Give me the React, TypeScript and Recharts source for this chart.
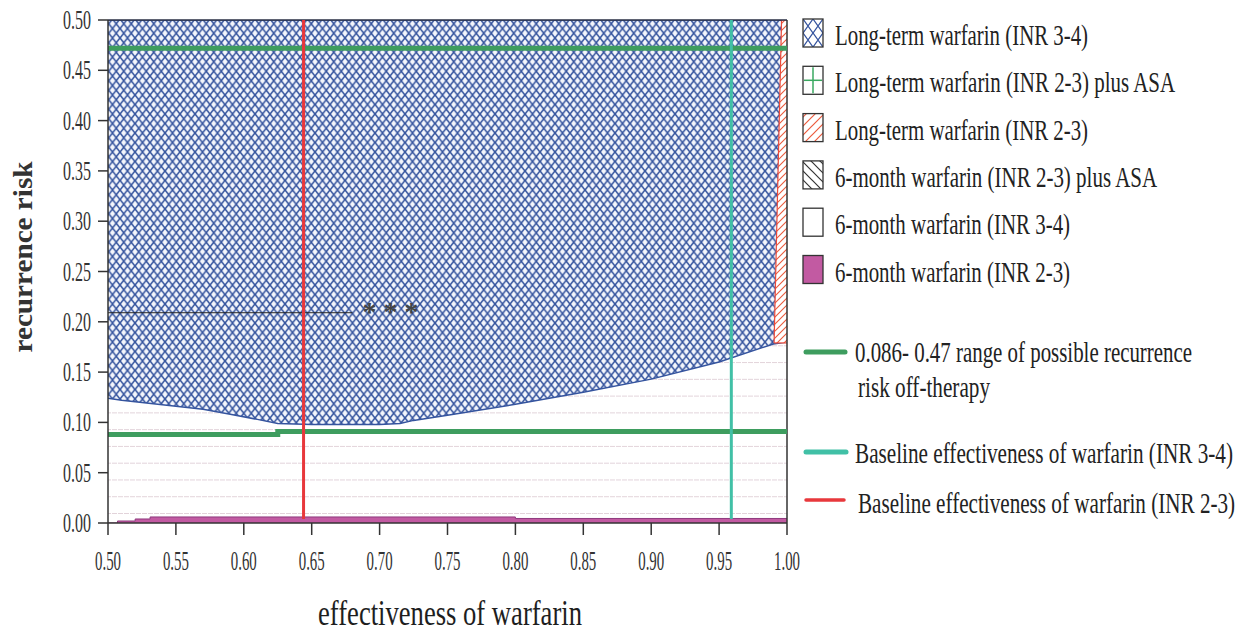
import React, { useLayoutEffect, useRef, useState } from 'react'
import {
  ComposedChart,
  Area,
  Line,
  XAxis,
  YAxis,
  CartesianGrid,
  ReferenceLine,
  ReferenceDot,
} from 'recharts'

const SERIF = '"Liberation Serif", "Times New Roman", serif'

const X_TICKS = [0.5, 0.55, 0.6, 0.65, 0.7, 0.75, 0.8, 0.85, 0.9, 0.95, 1.0]
const Y_TICKS = [0, 0.05, 0.1, 0.15, 0.2, 0.25, 0.3, 0.35, 0.4, 0.45, 0.5]
const RISK_MAX = 0.5

// long-term warfarin (INR 3-4): lower edge of the cross-hatched region
const LONG_INR34_X = [0.5, 0.51, 0.53, 0.55, 0.57, 0.59, 0.61, 0.625, 0.65, 0.7, 0.715, 0.725, 0.75, 0.8, 0.85, 0.9, 0.95, 0.99, 1.0]
const LONG_INR34_LOW = [0.124, 0.122, 0.119, 0.116, 0.113, 0.108, 0.103, 0.099, 0.098, 0.098, 0.099, 0.102, 0.107, 0.118, 0.13, 0.143, 0.16, 0.178, 0.18]

// long-term warfarin (INR 2-3): thin sliver at the right edge
const LONG_INR23_X = [0.9905, 0.996, 1.0]
const LONG_INR23_LOW = [0.179, 0.179, 0.179]
const LONG_INR23_HIGH = [0.179, 0.5, 0.5]

// 6-month warfarin (INR 2-3): band along the bottom
const SIX_INR23_X = [0.5, 0.507, 0.52, 0.531, 0.8, 1.0]
const SIX_INR23_Y = [0, 0.002, 0.004, 0.006, 0.0045, 0.0045]

// off-therapy recurrence risk range
const OFF_HIGH_X = [0.5, 1.0]
const OFF_HIGH_Y = [0.472, 0.472]
const OFF_LOW_X = [0.5, 0.625, 0.625, 1.0]
const OFF_LOW_Y = [0.088, 0.088, 0.091, 0.091]

// baseline effectiveness lines
const BASELINE_INR34 = 0.959
const BASELINE_INR23 = 0.644
const BASELINE_SPAN = [0.004, 0.5]

// *** marker
const MARK_X = [0.5, 0.68]
const MARK_Y = 0.209
const MARK_LABEL_X = 0.708

const LEGEND_BOXES = [
  { label: 'Long-term warfarin (INR 3-4)', len: 253, kind: 'xhatch' },
  { label: 'Long-term warfarin (INR 2-3) plus ASA', len: 340, kind: 'plus' },
  { label: 'Long-term warfarin (INR 2-3)', len: 253, kind: 'rhatch' },
  { label: '6-month warfarin (INR 2-3) plus ASA', len: 322, kind: 'khatch' },
  { label: '6-month warfarin (INR 3-4)', len: 235, kind: 'empty' },
  { label: '6-month warfarin (INR 2-3)', len: 235, kind: 'solid' },
]

const toPoints = (xs: number[], ys: number[]) => xs.map((x, i) => ({ x, y: ys[i] }))

const longInr34Data = LONG_INR34_X.map((x, i) => ({ x, range: [LONG_INR34_LOW[i], RISK_MAX] }))
const longInr23Data = LONG_INR23_X.map((x, i) => ({ x, range: [LONG_INR23_LOW[i], LONG_INR23_HIGH[i]] }))
const sixInr23Data = toPoints(SIX_INR23_X, SIX_INR23_Y)
const offHighData = toPoints(OFF_HIGH_X, OFF_HIGH_Y)
const offLowData = toPoints(OFF_LOW_X, OFF_LOW_Y)
const base34Data = BASELINE_SPAN.map(y => ({ x: BASELINE_INR34, y }))
const base23Data = BASELINE_SPAN.map(y => ({ x: BASELINE_INR23, y }))
const markData = MARK_X.map(x => ({ x, y: MARK_Y }))

const BLUE = '#35549e'
const GREEN = '#3e9d5f'
const TEAL = '#41c0a6'
const RED = '#e8383c'
const MAGENTA = '#c25aa2'

// text squeezed horizontally to a given width (the scan uses a narrow Times)
function FitText({ x, y, len, anchor = 'start', rotate = 0, size, weight = 'normal', fill = '#222', children }: any) {
  const ref = useRef<SVGTextElement>(null)
  const [sx, setSx] = useState(0.7)
  useLayoutEffect(() => {
    if (!ref.current) return
    const natural = ref.current.getComputedTextLength()
    if (natural > 0) setSx(len / natural)
  }, [len, children, size])
  return (
    <text
      ref={ref}
      transform={`translate(${x},${y}) rotate(${rotate}) scale(${sx},1)`}
      textAnchor={anchor}
      fontSize={size}
      fontWeight={weight}
      fontFamily={SERIF}
      fill={fill}
    >
      {children}
    </text>
  )
}

function YTick({ x, y, payload }: any) {
  return (
    <FitText x={x} y={y + 9} len={28} anchor="end" size={27} fill="#333">
      {Number(payload.value).toFixed(2)}
    </FitText>
  )
}

function XTick({ x, y, payload }: any) {
  return (
    <FitText x={x} y={y + 31} len={26} anchor="middle" size={27} fill="#333">
      {Number(payload.value).toFixed(2)}
    </FitText>
  )
}

function Swatch({ kind, y }: { kind: string; y: number }) {
  const x = 803
  const w = 20
  const h = 28
  let fill = '#fff'
  if (kind === 'xhatch') fill = 'url(#lgX)'
  if (kind === 'rhatch') fill = 'url(#lgR)'
  if (kind === 'khatch') fill = 'url(#lgK)'
  if (kind === 'solid') fill = MAGENTA
  return (
    <g>
      <rect x={x} y={y} width={w} height={h} fill={fill} stroke="#333" strokeWidth={1.3} />
      {kind === 'plus' && (
        <g stroke="#3aa860" strokeWidth={1.5}>
          <line x1={x + w / 2} y1={y + 1} x2={x + w / 2} y2={y + h - 1} />
          <line x1={x + 1} y1={y + h / 2} x2={x + w - 1} y2={y + h / 2} />
        </g>
      )}
    </g>
  )
}

export default function App() {
  return (
    <div style={{ position: 'relative', width: 1239, height: 634, background: '#fff' }}>
      <style>{'body { margin: 0; }'}</style>
      <ComposedChart
        width={1239}
        height={634}
        margin={{ top: 20, right: 452, bottom: 0, left: 0 }}
      >
        <defs>
          <pattern id="xhatch" width={7.5} height={9.5} patternUnits="userSpaceOnUse">
            <rect width={7.5} height={9.5} fill="#f4f6fc" />
            <path d="M0,0 L7.5,9.5 M7.5,0 L0,9.5" stroke={BLUE} strokeWidth={1.6} />
          </pattern>
          <pattern id="rhatch" width={7} height={7} patternUnits="userSpaceOnUse">
            <rect width={7} height={7} fill="#fff" />
            <path d="M0,7 L7,0 M-1,1 L1,-1 M6,8 L8,6" stroke="#ec5a3c" strokeWidth={1.1} />
          </pattern>
          <pattern id="hlines" width={6} height={16.77} y={9.9} patternUnits="userSpaceOnUse">
            <rect width={6} height={16.77} fill="#fff" />
            <line x1={0} y1={0.5} x2={6} y2={0.5} stroke="#e2d3da" strokeWidth={1} strokeDasharray="3 1" />
          </pattern>
        </defs>
        <CartesianGrid horizontal={false} vertical={false} fill="url(#hlines)" />
        <XAxis
          dataKey="x"
          type="number"
          domain={[0.5, 1]}
          ticks={X_TICKS}
          allowDataOverflow
          height={111}
          tickSize={12}
          tickMargin={4}
          tick={<XTick />}
          axisLine={{ stroke: '#333', strokeWidth: 1.5 }}
          tickLine={{ stroke: '#333', strokeWidth: 1.5 }}
        />
        <YAxis
          dataKey="y"
          type="number"
          domain={[0, 0.5]}
          ticks={Y_TICKS}
          allowDataOverflow
          width={108}
          tickSize={10}
          tickMargin={7}
          tick={<YTick />}
          axisLine={{ stroke: '#333', strokeWidth: 1.5 }}
          tickLine={{ stroke: '#333', strokeWidth: 1.5 }}
        />
        <Area
          data={longInr34Data}
          dataKey="range"
          type="linear"
          fill="url(#xhatch)"
          fillOpacity={1}
          stroke={BLUE}
          strokeWidth={1.5}
          isAnimationActive={false}
          dot={false}
          activeDot={false}
        />
        <Area
          data={longInr23Data}
          dataKey="range"
          type="linear"
          fill="url(#rhatch)"
          fillOpacity={1}
          stroke="#ec4a3a"
          strokeWidth={1.2}
          isAnimationActive={false}
          dot={false}
          activeDot={false}
        />
        <Area
          data={sixInr23Data}
          dataKey="y"
          type="stepAfter"
          fill={MAGENTA}
          fillOpacity={1}
          stroke="#8e3a7e"
          strokeWidth={1}
          isAnimationActive={false}
          dot={false}
          activeDot={false}
        />
        <ReferenceLine y={RISK_MAX} stroke="#2a2f45" strokeWidth={1.5} />
        <ReferenceLine x={1} stroke="#333" strokeWidth={1.5} />
        <Line data={markData} dataKey="y" stroke="#222" strokeWidth={1} dot={false} activeDot={false} isAnimationActive={false} />
        <Line data={offHighData} dataKey="y" stroke={GREEN} strokeWidth={5} strokeLinecap="round" dot={false} activeDot={false} isAnimationActive={false} />
        <Line data={offLowData} dataKey="y" stroke={GREEN} strokeWidth={5} strokeLinecap="round" dot={false} activeDot={false} isAnimationActive={false} />
        <Line data={base23Data} dataKey="y" stroke={RED} strokeWidth={3} dot={false} activeDot={false} isAnimationActive={false} />
        <Line data={base34Data} dataKey="y" stroke={TEAL} strokeWidth={3} dot={false} activeDot={false} isAnimationActive={false} />
        <ReferenceDot
          x={MARK_LABEL_X}
          y={MARK_Y}
          r={0}
          shape={(p: any) => (
            <text x={p.cx} y={p.cy + 8} textAnchor="middle" fontSize={28} fontWeight="bold"
              fontFamily={SERIF} fill="#444">
              * * *
            </text>
          )}
        />
      </ComposedChart>

      <svg width={1239} height={634} style={{ position: 'absolute', left: 0, top: 0, pointerEvents: 'none' }}>
        <defs>
          <pattern id="lgX" width={10} height={14} x={803} y={19} patternUnits="userSpaceOnUse">
            <path d="M0,0 L10,14 M10,0 L0,14" stroke={BLUE} strokeWidth={1.3} />
          </pattern>
          <pattern id="lgR" width={9} height={9} x={803} patternUnits="userSpaceOnUse">
            <path d="M0,9 L9,0 M-1,1 L1,-1 M8,10 L10,8" stroke="#ec5a3c" strokeWidth={1.2} />
          </pattern>
          <pattern id="lgK" width={9} height={9} x={803} patternUnits="userSpaceOnUse">
            <path d="M0,0 L9,9 M-1,8 L1,10 M8,-1 L10,1" stroke="#333" strokeWidth={1.2} />
          </pattern>
        </defs>

        {LEGEND_BOXES.map((item, i) => (
          <g key={item.label}>
            <Swatch kind={item.kind} y={19 + 47.3 * i} />
            <FitText x={835} y={45 + 47.3 * i} len={item.len} size={30}>{item.label}</FitText>
          </g>
        ))}

        <line x1={806} y1={352} x2={845} y2={352} stroke={GREEN} strokeWidth={5} strokeLinecap="round" />
        <FitText x={855} y={362} len={337} size={29}>0.086- 0.47 range of possible recurrence</FitText>
        <FitText x={858} y={397} len={132} size={29}>risk off-therapy</FitText>

        <line x1={806} y1={452} x2={846} y2={452} stroke={TEAL} strokeWidth={5} strokeLinecap="round" />
        <FitText x={855} y={463} len={378} size={29}>Baseline effectiveness of warfarin (INR 3-4)</FitText>

        <line x1={806} y1={500} x2={844} y2={500} stroke={RED} strokeWidth={3.5} strokeLinecap="round" />
        <FitText x={858} y={513} len={377} size={29}>Baseline effectiveness of warfarin (INR 2-3)</FitText>

        <FitText x={450} y={625} len={264} anchor="middle" size={36} fill="#1e1e1e">
          effectiveness of warfarin
        </FitText>
        <FitText x={32} y={257} len={191} anchor="middle" rotate={-90} size={28} weight="bold" fill="#333">
          recurrence risk
        </FitText>
      </svg>
    </div>
  )
}
